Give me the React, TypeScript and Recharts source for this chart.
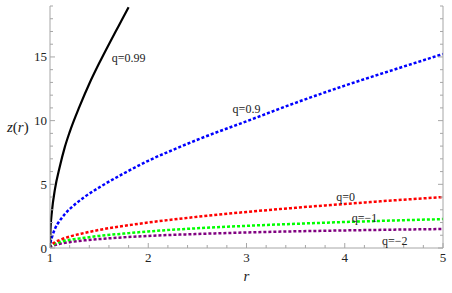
import React from 'react';
import { LineChart, Line, XAxis, YAxis, ReferenceDot } from 'recharts';

// r samples and z(r) values
const rBlack = [1.0, 1.005, 1.02, 1.05, 1.1, 1.15, 1.2, 1.3, 1.4, 1.5, 1.6, 1.7, 1.8];
const zBlack = [0, 1.45, 2.9, 4.6, 6.4, 7.9, 9.1, 11.1, 12.9, 14.5, 16.0, 17.45, 18.9];

const rBlue = [1.0, 1.005, 1.02, 1.05, 1.1, 1.15, 1.25, 1.35, 1.5, 1.75, 2.0, 2.25, 2.5, 3.0, 3.5, 4.0, 4.5, 5.0];
const zBlue = [0, 0.4, 0.85, 1.5, 2.15, 2.65, 3.4, 4.0, 4.75, 5.85, 6.85, 7.7, 8.5, 9.95, 11.4, 12.75, 14.0, 15.23];

const rRest = [1.0, 1.005, 1.02, 1.05, 1.1, 1.2, 1.35, 1.5, 1.75, 2.0, 2.5, 3.0, 3.5, 4.0, 4.5, 5.0];
const zRed = [0, 0.14, 0.28, 0.45, 0.63, 0.9, 1.18, 1.42, 1.73, 2.0, 2.45, 2.83, 3.16, 3.46, 3.74, 4.0];
const zGreen = [0, 0.1, 0.2, 0.34, 0.47, 0.64, 0.8, 0.95, 1.13, 1.3, 1.55, 1.74, 1.9, 2.04, 2.16, 2.27];
const zPurple = [0, 0.07, 0.14, 0.23, 0.33, 0.46, 0.6, 0.7, 0.84, 0.95, 1.1, 1.22, 1.31, 1.38, 1.44, 1.49];

const xTicks = [1, 1.2, 1.4, 1.6, 1.8, 2, 2.2, 2.4, 2.6, 2.8, 3, 3.2, 3.4, 3.6, 3.8, 4, 4.2, 4.4, 4.6, 4.8, 5];
const yTicks = [0, 1, 2, 3, 4, 5, 6, 7, 8, 9, 10, 11, 12, 13, 14, 15, 16, 17, 18, 19];

const curveLabels = [
  { text: 'q=0.99', r: 1.8, z: 14.95 },
  { text: 'q=0.9', r: 3.0, z: 10.95 },
  { text: 'q=0', r: 4.01, z: 4.05 },
  { text: 'q=\u22121', r: 4.2, z: 2.4 },
  { text: 'q=\u22122', r: 4.51, z: 0.55 },
];

const toData = (rs: number[], zs: number[]) => rs.map((r, i) => ({ r, z: zs[i] }));
const blackData = toData(rBlack, zBlack);
const blueData = toData(rBlue, zBlue);
const redData = toData(rRest, zRed);
const greenData = toData(rRest, zGreen);
const purpleData = toData(rRest, zPurple);

const FRAME = '#a6a6a6';
const FONT = 'Liberation Serif, Times New Roman, serif';
const TXT = '#222';
const txtStyle = { fontFamily: FONT };

const majX = (v: number) => Math.abs(v - Math.round(v)) < 1e-6;
const majY = (v: number) => v % 5 === 0;

const BottomTick = (p: any) => {
  const { x, y, payload } = p;
  const m = majX(payload.value);
  return (
    <g>
      <line x1={x} x2={x} y1={y} y2={y - (m ? 5 : 3)} stroke={FRAME} />
      {m && (
        <text x={x} y={y + 14} textAnchor="middle" fontSize={13} style={txtStyle} fill={TXT}>
          {payload.value}
        </text>
      )}
    </g>
  );
};
const TopTick = (p: any) => {
  const { x, y, payload } = p;
  const m = majX(payload.value);
  return <line x1={x} x2={x} y1={y} y2={y + (m ? 5 : 3)} stroke={FRAME} />;
};
const LeftTick = (p: any) => {
  const { x, y, payload } = p;
  const m = majY(payload.value);
  return (
    <g>
      <line x1={x} x2={x + (m ? 5 : 3)} y1={y} y2={y} stroke={FRAME} />
      {m && (
        <text x={x - 3} y={y + 4.5} textAnchor="end" fontSize={13} style={txtStyle} fill={TXT}>
          {payload.value}
        </text>
      )}
    </g>
  );
};
const RightTick = (p: any) => {
  const { x, y, payload } = p;
  const m = majY(payload.value);
  return <line x1={x} x2={x - (m ? 5 : 3)} y1={y} y2={y} stroke={FRAME} />;
};

const XLabel = (p: any) => {
  const vb = p.viewBox;
  return (
    <text x={vb.x + vb.width / 2} y={vb.y + 33} textAnchor="middle" fontSize={15} fontStyle="italic" style={txtStyle} fill={TXT}>
      r
    </text>
  );
};
const YLabel = (p: any) => {
  const vb = p.viewBox;
  return (
    <text x={vb.x + 7} y={vb.y + vb.height / 2 + 5} fontSize={15} style={txtStyle} fill={TXT}>
      <tspan fontStyle="italic">z</tspan>(<tspan fontStyle="italic">r</tspan>)
    </text>
  );
};

const dash = '3 2';

export default function App() {
  return (
    <div style={{ position: 'absolute', left: 0, top: 0, width: 452, height: 293, background: '#fff' }}>
      <LineChart width={452} height={293} margin={{ top: 6, right: 0, bottom: 0, left: 0 }}>
        <XAxis
          xAxisId="b"
          type="number"
          dataKey="r"
          domain={[1, 5]}
          allowDataOverflow
          ticks={xTicks}
          interval={0}
          tick={<BottomTick />}
          tickLine={false}
          tickSize={0}
          tickMargin={0}
          axisLine={{ stroke: FRAME }}
          height={45}
          label={<XLabel />}
        />
        <XAxis
          xAxisId="t"
          orientation="top"
          type="number"
          dataKey="r"
          domain={[1, 5]}
          allowDataOverflow
          ticks={xTicks}
          interval={0}
          tick={<TopTick />}
          tickLine={false}
          tickSize={0}
          tickMargin={0}
          axisLine={{ stroke: FRAME }}
          height={0}
        />
        <YAxis
          yAxisId="l"
          type="number"
          domain={[0, 19]}
          allowDataOverflow
          ticks={yTicks}
          interval={0}
          tick={<LeftTick />}
          tickLine={false}
          tickSize={0}
          tickMargin={0}
          axisLine={{ stroke: FRAME }}
          width={50}
          label={<YLabel />}
        />
        <YAxis
          yAxisId="rt"
          orientation="right"
          type="number"
          domain={[0, 19]}
          allowDataOverflow
          ticks={yTicks}
          interval={0}
          tick={<RightTick />}
          tickLine={false}
          tickSize={0}
          tickMargin={0}
          axisLine={{ stroke: FRAME }}
          width={9}
        />
        <Line xAxisId="b" yAxisId="l" data={purpleData} dataKey="z" type="monotone" stroke="#800080" strokeWidth={2.5} strokeDasharray={dash} dot={false} isAnimationActive={false} />
        <Line xAxisId="b" yAxisId="l" data={greenData} dataKey="z" type="monotone" stroke="#00ff00" strokeWidth={2.5} strokeDasharray={dash} dot={false} isAnimationActive={false} />
        <Line xAxisId="b" yAxisId="l" data={redData} dataKey="z" type="monotone" stroke="#ff0000" strokeWidth={2.5} strokeDasharray={dash} dot={false} isAnimationActive={false} />
        <Line xAxisId="b" yAxisId="l" data={blueData} dataKey="z" type="monotone" stroke="#0000ff" strokeWidth={2.5} strokeDasharray={dash} dot={false} isAnimationActive={false} />
        <Line xAxisId="b" yAxisId="l" data={blackData} dataKey="z" type="monotone" stroke="#000000" strokeWidth={2.2} dot={false} isAnimationActive={false} />
        {curveLabels.map((c) => (
          <ReferenceDot
            key={c.text}
            xAxisId="b"
            yAxisId="l"
            x={c.r}
            y={c.z}
            r={0}
            fill="none"
            stroke="none"
            label={{ value: c.text, position: 'center', fontSize: 12, style: txtStyle, fill: TXT }}
          />
        ))}
      </LineChart>
    </div>
  );
}
